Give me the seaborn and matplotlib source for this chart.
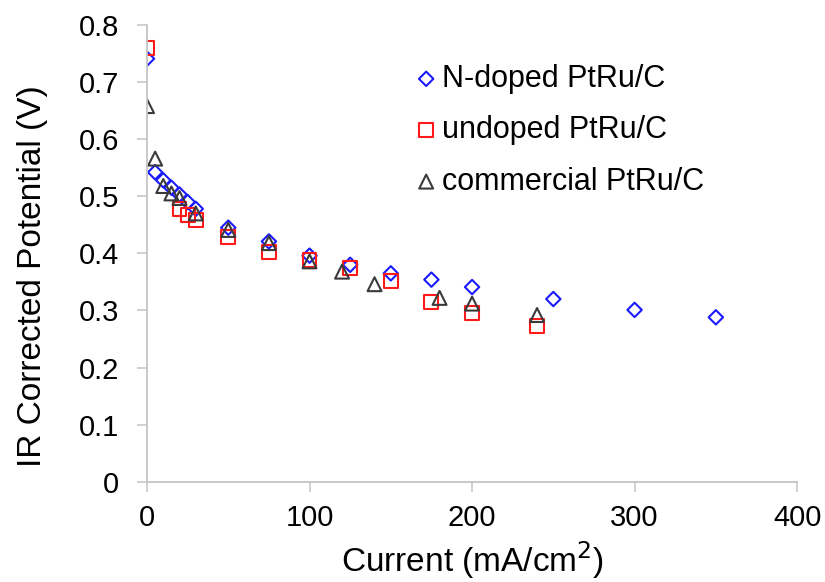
import matplotlib
matplotlib.use("Agg")
import matplotlib.pyplot as plt
from matplotlib.markers import MarkerStyle
import seaborn as sns
import pandas as pd

sns.set_style("white")
plt.rcParams['font.family'] = ['Liberation Sans', 'DejaVu Sans']
plt.rcParams['text.color'] = 'black'
plt.rcParams['axes.labelcolor'] = 'black'

# N-doped PtRu/C
n_x = [0, 5, 10, 15, 20, 25, 30, 50, 75, 100, 125, 150, 175, 200, 250, 300, 350]
n_y = [0.741, 0.542, 0.528, 0.515, 0.503, 0.490, 0.478, 0.445, 0.421, 0.396, 0.380, 0.365, 0.354, 0.341, 0.320, 0.301, 0.288]
# undoped PtRu/C
u_x = [0, 20, 25, 30, 50, 75, 100, 125, 150, 175, 200, 240]
u_y = [0.760, 0.477, 0.467, 0.458, 0.428, 0.402, 0.388, 0.374, 0.352, 0.315, 0.295, 0.273]
# commercial PtRu/C
c_x = [0, 5, 10, 15, 20, 30, 50, 75, 100, 120, 140, 180, 200, 240]
c_y = [0.658, 0.566, 0.518, 0.505, 0.497, 0.470, 0.441, 0.418, 0.386, 0.368, 0.346, 0.322, 0.312, 0.292]

labels = ["N-doped PtRu/C", "undoped PtRu/C", "commercial PtRu/C"]
colors = ["#1a1aff", "#ff1a1a", "#3a3a3a"]
markers = ["D", "s", "^"]
x_ticks = [0, 100, 200, 300, 400]
y_ticks = [0, 0.1, 0.2, 0.3, 0.4, 0.5, 0.6, 0.7, 0.8]

DPI = 100
LW = 1.5  # marker edge width (pt)


def size_for(marker, px):
    ms = MarkerStyle(marker)
    ext = ms.get_path().transformed(ms.get_transform()).get_extents()
    inner_px = px - LW * DPI / 72
    pts = inner_px * 72 / DPI
    return (pts / ext.width) ** 2


target_px = [16.5, 16.0, 16.0]

fig = plt.figure(figsize=(8.25, 5.82), dpi=DPI)
ax = fig.add_axes([0.1782, 0.1723, 0.788, 0.7847])

series = [(n_x, n_y), (u_x, u_y), (c_x, c_y)]
for (xs, ys), lab, col, mk, tp in zip(series, labels, colors, markers, target_px):
    df = pd.DataFrame({"x": xs, "y": ys})
    sns.scatterplot(data=df, x="x", y="y", ax=ax, marker=mk, s=size_for(mk, tp),
                    facecolors="none", edgecolors=col, linewidth=LW, label=lab)

ax.set_xlim(0, 400)
ax.set_ylim(0, 0.8)
ax.set_xticks(x_ticks)
ax.set_yticks(y_ticks)
ax.set_xticklabels([str(t) for t in x_ticks])
ax.set_yticklabels(["0" if t == 0 else f"{t:.1f}" for t in y_ticks])
ax.tick_params(axis="both", which="major", bottom=True, left=True, labelsize=21,
               length=7, width=1.1, color="#c4c4c4", labelcolor="black", direction="out")
ax.tick_params(axis="x", pad=9)
ax.tick_params(axis="y", pad=13)
for s in ["top", "right"]:
    ax.spines[s].set_visible(False)
for s in ["left", "bottom"]:
    ax.spines[s].set_color("#c4c4c4")
    ax.spines[s].set_linewidth(1.3)

ax.set_xlabel("Current (mA/cm$^2$)", fontsize=24)
ax.set_ylabel("IR Corrected Potential (V)", fontsize=24)
ax.xaxis.set_label_coords(0.5, -0.125)
ax.yaxis.set_label_coords(-0.152, 0.45)

leg = ax.legend(loc="upper left", bbox_to_anchor=(0.4106, 0.915), frameon=False, fontsize=22,
                markerscale=1.0, handletextpad=0.13, labelspacing=0.70, handlelength=0.8,
                borderpad=0.0, borderaxespad=0.0)

fig.savefig("out.png", dpi=DPI)
